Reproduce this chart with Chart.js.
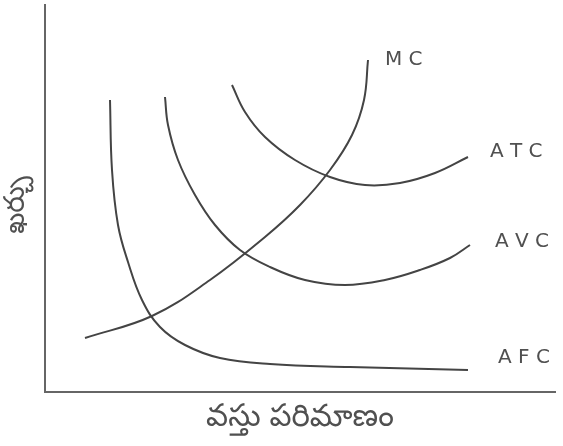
<!doctype html>
<html>
<head>
<meta charset="utf-8">
<title>Cost Curves</title>
<script src="https://cdn.jsdelivr.net/npm/chart.js@4.4.1/dist/chart.umd.min.js"></script>
<style>
  body { margin: 0; background: #fff; }
  #wrap { width: 563px; height: 446px; }
</style>
</head>
<body>
<div id="wrap"><canvas id="cost-chart" width="563" height="446"></canvas></div>
<script>
// curve points (output, cost)
var mcX  = [40, 107, 165, 220, 255, 285, 307, 319, 323];
var mcY  = [54, 76, 112, 155, 187, 222, 257, 292, 332];
var atcX = [187, 200, 220, 250, 285, 320, 355, 390, 423];
var atcY = [307, 280, 255, 232, 215, 207, 209, 219, 235];
var avcX = [120, 123, 133, 150, 170, 195, 225, 260, 300, 340, 375, 405, 425];
var avcY = [295, 267, 232, 197, 167, 142, 125, 112, 107, 112, 122, 134, 147];
var afcX = [65, 67, 73, 83, 97, 115, 140, 175, 225, 305, 423];
var afcY = [292, 222, 167, 130, 92, 65, 47, 34, 28, 25, 22];

var curveNames = ['MC', 'ATC', 'AVC', 'AFC'];
var xTitle = 'వస్తు పరిమాణం';
var yTitle = 'ఖర్చు';

function pts(xs, ys) {
  return xs.map(function (x, i) { return { x: x, y: ys[i] }; });
}

var ink = '#444';

function curve(label, xs, ys) {
  return {
    label: label,
    data: pts(xs, ys),
    showLine: true,
    borderColor: ink,
    borderWidth: 2,
    pointRadius: 0,
    tension: 0.4,
    fill: false
  };
}

// curve labels and axis titles written beside the plot
var textPlugin = {
  id: 'handLabels',
  afterDraw: function (chart) {
    var ctx = chart.ctx;
    var a = chart.chartArea;
    ctx.save();
    ctx.fillStyle = '#505050';
    ctx.textAlign = 'left';
    ctx.textBaseline = 'middle';
    ctx.font = '20px "DejaVu Sans", sans-serif';
    var spots = [[385, 60], [490, 152], [495, 242], [498, 358]];
    curveNames.forEach(function (n, i) {
      ctx.fillText(n.split('').join(' '), spots[i][0], spots[i][1]);
    });
    ctx.textAlign = 'center';
    ctx.font = '31px "Noto Sans Telugu", "Noto Sans", sans-serif';
    ctx.fillText(xTitle, (a.left + a.right) / 2, 422);
    ctx.font = '28px "Noto Sans Telugu", "Noto Sans", sans-serif';
    ctx.translate(20, 205);
    ctx.rotate(-Math.PI / 2);
    ctx.fillText(yTitle, 0, 0);
    ctx.restore();
  }
};

new Chart(document.getElementById('cost-chart'), {
  type: 'scatter',
  data: {
    datasets: [
      curve(curveNames[0], mcX, mcY),
      curve(curveNames[1], atcX, atcY),
      curve(curveNames[2], avcX, avcY),
      curve(curveNames[3], afcX, afcY)
    ]
  },
  options: {
    responsive: false,
    animation: false,
    layout: { padding: { left: 45, right: 8, top: 5, bottom: 54 } },
    plugins: { legend: { display: false }, tooltip: { enabled: false } },
    scales: {
      x: {
        type: 'linear', min: 0, max: 510,
        grid: { display: false, drawTicks: false },
        border: { display: true, color: '#666', width: 2 },
        ticks: { display: false }
      },
      y: {
        type: 'linear', min: 0, max: 387,
        grid: { display: false, drawTicks: false },
        border: { display: true, color: '#666', width: 2 },
        ticks: { display: false }
      }
    }
  },
  plugins: [textPlugin]
});
</script>
</body>
</html>
